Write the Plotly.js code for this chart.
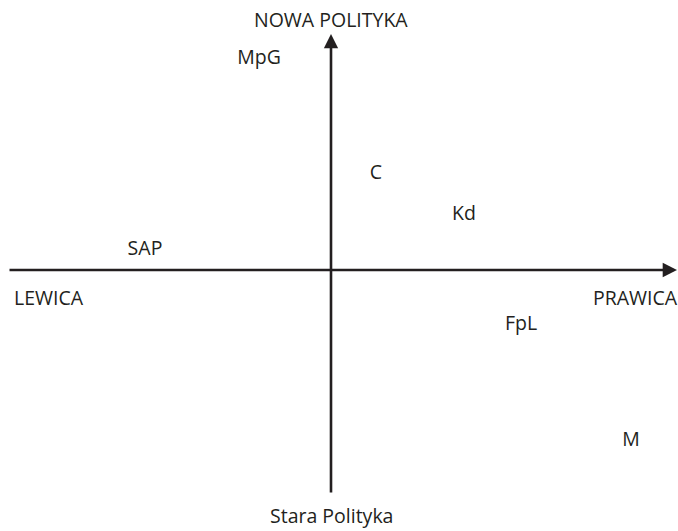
<!DOCTYPE html>
<html>
<head>
<meta charset="utf-8">
<script src="https://cdn.plot.ly/plotly-3.0.1.min.js"></script>
<style>html,body{margin:0;padding:0;background:#fff}#chart{width:678px;height:531px}</style>
</head>
<body>
<div id="chart"></div>
<script>
// Party positions (x: left-right, y: old-new politics)
const parties = ["MpG", "C", "Kd", "SAP", "FpL", "M"];
const xValues = [-72, 45, 133, -186, 190, 300];
const yValues = [211, 96, 55, 20, -55, -171];

// Axis titles
const axisLabels = ["NOWA POLITYKA", "Stara Polityka", "LEWICA", "PRAWICA"];

const ink = "#231f20";
const font = {family: "Open Sans, sans-serif", size: 19.5, color: ink};

const trace = {
  type: "scatter",
  mode: "text",
  x: xValues,
  y: yValues,
  text: parties,
  textposition: "middle center",
  textfont: font,
  hoverinfo: "skip",
  showlegend: false
};

const annotations = [
  // horizontal axis arrow
  {x: 346, y: 0, ax: -323, ay: 0, xref: "x", yref: "y", axref: "x", ayref: "y",
   text: "", showarrow: true, arrowhead: 2, arrowsize: 1.1, arrowwidth: 2.6, arrowcolor: ink, standoff: 0},
  // vertical axis arrow
  {x: 0, y: 236, ax: 0, ay: -224, xref: "x", yref: "y", axref: "x", ayref: "y",
   text: "", showarrow: true, arrowhead: 2, arrowsize: 1.1, arrowwidth: 2.6, arrowcolor: ink, standoff: 0},
  {x: 0, y: 251, text: axisLabels[0], showarrow: false, font: font, xref: "x", yref: "y"},
  {x: 0, y: -245, text: axisLabels[1], showarrow: false, font: font, xref: "x", yref: "y"},
  {x: -282, y: -27, text: axisLabels[2], showarrow: false, font: font, xref: "x", yref: "y"},
  {x: 304, y: -27, text: axisLabels[3], showarrow: false, font: font, xref: "x", yref: "y"}
];

const layout = {
  width: 678,
  height: 531,
  margin: {l: 0, r: 0, t: 0, b: 0},
  paper_bgcolor: "#ffffff",
  plot_bgcolor: "#ffffff",
  xaxis: {range: [-331, 347], visible: false, fixedrange: true},
  yaxis: {range: [-261, 270], visible: false, fixedrange: true},
  annotations: annotations,
  showlegend: false
};

Plotly.newPlot("chart", [trace], layout, {staticPlot: true, displayModeBar: false});
</script>
</body>
</html>
